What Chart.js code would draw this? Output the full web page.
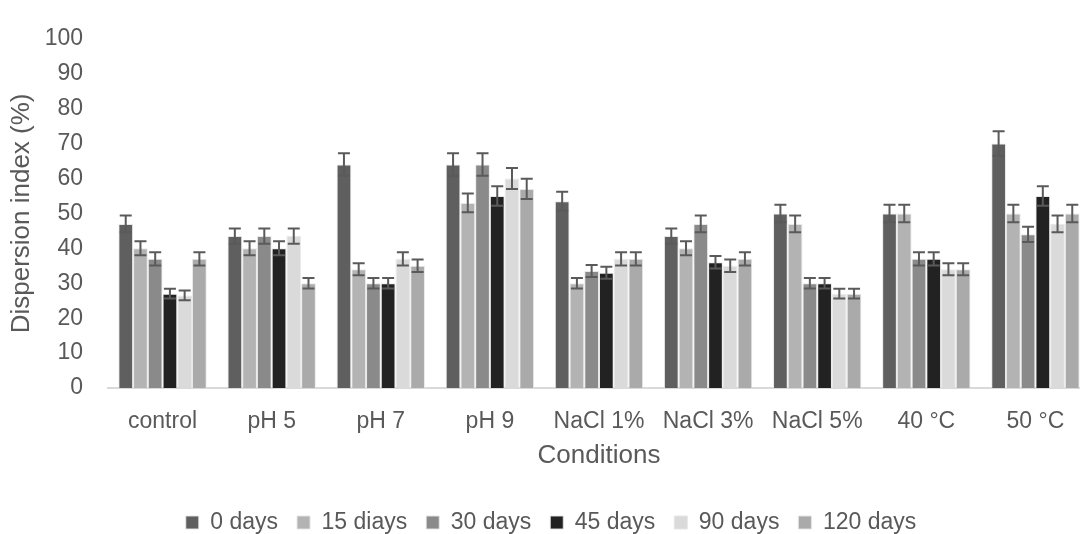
<!DOCTYPE html>
<html>
<head>
<meta charset="utf-8">
<script src="https://cdn.jsdelivr.net/npm/chart.js@4.4.1/dist/chart.umd.min.js"></script>
<style>
  html, body { margin: 0; padding: 0; overflow: hidden; background: #ffffff; width: 1080px; height: 534px; }
  #wrap { position: absolute; left: 0; top: 0; width: 1090px; height: 544px; }
</style>
</head>
<body>
<div id="wrap"><canvas id="c" width="1090" height="544"></canvas></div>
<script>
const categories = ['control', 'pH 5', 'pH 7', 'pH 9', 'NaCl 1%', 'NaCl 3%', 'NaCl 5%', '40 °C', '50 °C'];
const seriesNames = ['0 days', '15 diays', '30 days', '45 days', '90 days', '120 days'];
const seriesColors = ['#5f5f5f', '#b3b3b3', '#8a8a8a', '#222222', '#dadada', '#aaaaaa'];

const days0   = [47, 43.5, 64, 64, 53.5, 43.5, 50, 50, 70];
const days15  = [40, 40, 34, 53, 30, 40, 47, 50, 50];
const days30  = [37, 43.5, 30, 64, 33.5, 47, 30, 37, 44];
const days45  = [27, 40, 30, 55, 33, 36, 30, 37, 55];
const days90  = [26.5, 43.5, 37, 60, 37, 35, 27, 34, 47];
const days120 = [37, 30, 35, 57, 37, 37, 27, 34, 50];

const err0   = [2.4, 2.2, 3.2, 3.2, 2.7, 2.2, 2.5, 2.5, 3.5];
const err15  = [2.0, 2.0, 1.7, 2.7, 1.5, 2.0, 2.4, 2.5, 2.5];
const err30  = [1.9, 2.2, 1.5, 3.2, 1.7, 2.4, 1.5, 1.9, 2.2];
const err45  = [1.4, 2.0, 1.5, 2.8, 1.7, 1.8, 1.5, 1.9, 2.8];
const err90  = [1.4, 2.2, 1.9, 3.0, 1.9, 1.8, 1.4, 1.7, 2.4];
const err120 = [1.9, 1.5, 1.8, 2.9, 1.9, 1.9, 1.4, 1.7, 2.5];

const yTicks = [0, 10, 20, 30, 40, 50, 60, 70, 80, 90, 100];

const seriesValues = [days0, days15, days30, days45, days90, days120];
const seriesErrors = [err0, err15, err30, err45, err90, err120];

const TEXT = '#595959';
const FONT = "'Liberation Sans', Arial, sans-serif";

const errorBars = {
  id: 'errorBars',
  afterDatasetsDraw(chart) {
    const ctx = chart.ctx;
    const yScale = chart.scales.y;
    ctx.save();
    ctx.strokeStyle = '#5a5a5a';
    ctx.lineWidth = 2;
    chart.data.datasets.forEach((ds, di) => {
      const meta = chart.getDatasetMeta(di);
      meta.data.forEach((bar, i) => {
        const v = ds.data[i];
        const e = ds.errors[i];
        const yt = yScale.getPixelForValue(v + e);
        const yb = yScale.getPixelForValue(v - e);
        const x = bar.x;
        const hw = 6;
        ctx.beginPath();
        ctx.moveTo(x, yt); ctx.lineTo(x, yb);
        ctx.moveTo(x - hw, yt); ctx.lineTo(x + hw, yt);
        ctx.moveTo(x - hw, yb); ctx.lineTo(x + hw, yb);
        ctx.stroke();
      });
    });
    ctx.restore();
  }
};

const legendShift = {
  id: 'legendShift',
  afterLayout(chart) {
    const lg = chart.legend;
    if (lg) { lg.left += 6; lg.right += 6; }
  }
};

new Chart(document.getElementById('c'), {
  type: 'bar',
  data: {
    labels: categories,
    datasets: seriesNames.map((name, k) => ({
      label: name,
      data: seriesValues[k],
      errors: seriesErrors[k],
      backgroundColor: seriesColors[k],
      borderColor: 'rgba(230,230,230,0.9)',
      borderWidth: 1,
      categoryPercentage: 0.81,
      barPercentage: 1.0
    }))
  },
  options: {
    responsive: false,
    animation: false,
    devicePixelRatio: 1,
    layout: { padding: { top: 17, left: 0, right: 0, bottom: 0 } },
    plugins: {
      tooltip: { enabled: false },
      legend: {
        position: 'bottom',
        labels: {
          color: TEXT,
          font: { family: FONT, size: 23 },
          boxWidth: 13,
          boxHeight: 13,
          padding: 19
        }
      }
    },
    scales: {
      x: {
        grid: { display: false, drawTicks: false },
        border: { display: true, color: '#d9d9d9', width: 2 },
        ticks: { color: TEXT, font: { family: FONT, size: 23 }, padding: 20, maxRotation: 0, autoSkip: false },
        title: { display: true, text: 'Conditions', color: TEXT, font: { family: FONT, size: 26 }, padding: { top: 4, bottom: 21 } },
        afterFit(scale) { scale.height = 104; }
      },
      y: {
        min: 0, max: 100,
        afterBuildTicks(scale) { scale.ticks = yTicks.map(v => ({ value: v })); },
        grid: { display: false, drawTicks: false },
        border: { display: false },
        ticks: { color: TEXT, font: { family: FONT, size: 23 }, padding: 25 },
        title: { display: true, text: 'Dispersion index (%)', color: TEXT, font: { family: FONT, size: 26 }, padding: { top: 6, bottom: 0 } },
        afterFit(scale) { scale.width = 108; }
      }
    }
  },
  plugins: [errorBars, legendShift]
});
</script>
</body>
</html>
